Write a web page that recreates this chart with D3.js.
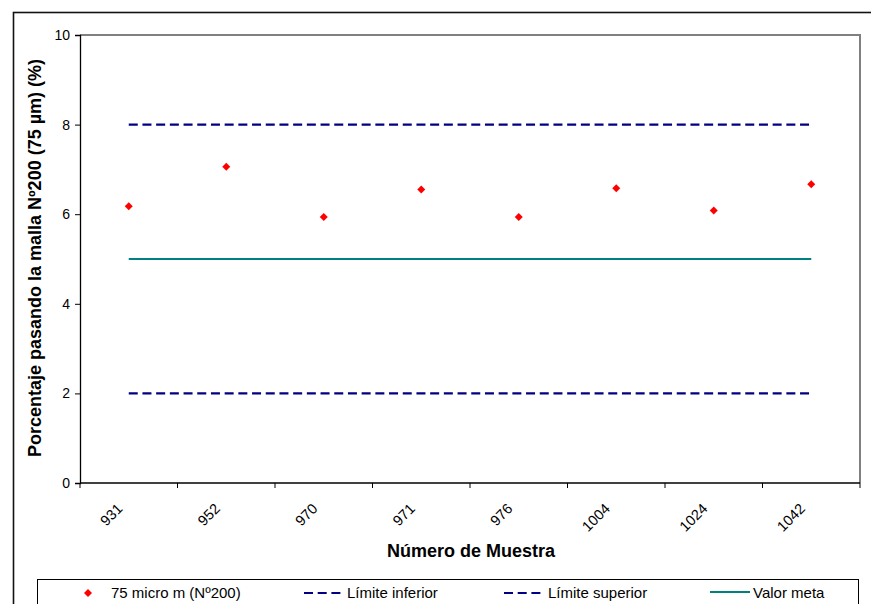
<!DOCTYPE html>
<html>
<head>
<meta charset="utf-8">
<script src="https://cdn.jsdelivr.net/npm/d3@7"></script>
<style>
  body { margin: 0; background: #fff; }
  svg { display: block; font-family: "Liberation Sans", Arial, sans-serif; }
</style>
</head>
<body>
<div id="chart"></div>
<script>
// data
const muestras = ['931', '952', '970', '971', '976', '1004', '1024', '1042'];
const pasando200 = [6.18, 7.06, 5.94, 6.55, 5.94, 6.58, 6.08, 6.67];
const limiteInferior = [2, 2, 2, 2, 2, 2, 2, 2];
const limiteSuperior = [8, 8, 8, 8, 8, 8, 8, 8];
const valorMeta = [5, 5, 5, 5, 5, 5, 5, 5];
const yTicks = [0, 2, 4, 6, 8, 10];
const legendNames = ['75 micro m (Nº200)', 'Límite inferior', 'Límite superior', 'Valor meta'];

const width = 871, height = 604;
const margin = { left: 80, right: 11, top: 35, bottom: 121 };

const svg = d3.select('#chart').append('svg')
    .attr('width', width)
    .attr('height', height);

// outer chart frame (runs off the picture right and bottom)
svg.append('rect')
    .attr('x', 13.5).attr('y', 12.5)
    .attr('width', 900).attr('height', 700)
    .attr('fill', 'none')
    .attr('stroke', '#111')
    .attr('stroke-width', 1.6);

const x = d3.scaleBand()
    .domain(muestras)
    .range([margin.left, width - margin.right]);

const y = d3.scaleLinear()
    .domain([0, 10])
    .range([height - margin.bottom, margin.top]);

const cx = d => x(d) + x.bandwidth() / 2;

// plot border, top and right in grey
svg.append('path')
    .attr('d', 'M' + margin.left + ',' + y(10) + 'H' + (width - margin.right) + 'V' + y(0))
    .attr('fill', 'none')
    .attr('stroke', '#808080')
    .attr('stroke-width', 2);

// y axis
const yAxis = svg.append('g')
    .attr('transform', 'translate(' + margin.left + ',0)')
    .call(d3.axisLeft(y).tickValues(yTicks).tickSize(5).tickPadding(5));
yAxis.select('.domain').attr('stroke', '#000').attr('stroke-width', 1.3);
yAxis.selectAll('.tick line').attr('stroke', '#000');
yAxis.selectAll('.tick text').style('font-size', '14px').attr('fill', '#000');

// x axis, ticks between categories
const xAxis = svg.append('g')
    .attr('transform', 'translate(0,' + y(0) + ')');
xAxis.append('line')
    .attr('x1', margin.left).attr('x2', width - margin.right)
    .attr('stroke', '#000').attr('stroke-width', 1.3);
const bounds = muestras.map(d => x(d)).concat([x(muestras[muestras.length - 1]) + x.bandwidth()]);
xAxis.selectAll('line.tk')
    .data(bounds)
    .enter().append('line')
    .attr('class', 'tk')
    .attr('x1', d => d).attr('x2', d => d)
    .attr('y1', 0).attr('y2', 5)
    .attr('stroke', '#000');
xAxis.selectAll('text')
    .data(muestras)
    .enter().append('text')
    .attr('transform', d => 'translate(' + (cx(d) - 9) + ',23) rotate(-45)')
    .attr('text-anchor', 'end')
    .attr('dy', '0.35em')
    .style('font-size', '14.5px')
    .text(d => d);

// reference lines
const line = d3.line()
    .x((d, i) => cx(muestras[i]))
    .y(d => y(d));

svg.append('path')
    .datum(limiteSuperior)
    .attr('d', line)
    .attr('fill', 'none')
    .attr('stroke', '#000080')
    .attr('stroke-width', 2.2)
    .attr('stroke-dasharray', '9,4.7');

svg.append('path')
    .datum(limiteInferior)
    .attr('d', line)
    .attr('fill', 'none')
    .attr('stroke', '#000080')
    .attr('stroke-width', 2.2)
    .attr('stroke-dasharray', '9,4.7');

svg.append('path')
    .datum(valorMeta)
    .attr('d', line)
    .attr('fill', 'none')
    .attr('stroke', '#008080')
    .attr('stroke-width', 2.2);

// points
const diamond = d3.symbol().type(d3.symbolSquare).size(32);
svg.selectAll('.pt')
    .data(pasando200)
    .enter().append('path')
    .attr('class', 'pt')
    .attr('d', diamond)
    .attr('transform', (d, i) => 'translate(' + cx(muestras[i]) + ',' + y(d) + ') rotate(45)')
    .attr('fill', '#ff0000');

// axis titles
svg.append('text')
    .attr('transform', 'translate(41,' + (y(5) - 1) + ') rotate(-90)')
    .attr('text-anchor', 'middle')
    .style('font-size', '18px')
    .style('font-weight', 'bold')
    .text('Porcentaje pasando la malla Nº200 (75 µm) (%)');

svg.append('text')
    .attr('x', (margin.left + width - margin.right) / 2 + 1)
    .attr('y', 557)
    .attr('text-anchor', 'middle')
    .style('font-size', '18px')
    .style('font-weight', 'bold')
    .text('Número de Muestra');

// legend
const legend = svg.append('g');
legend.append('rect')
    .attr('x', 37.5).attr('y', 579.5)
    .attr('width', 821).attr('height', 60)
    .attr('fill', '#fff')
    .attr('stroke', '#000');

const legX = [88, 304, 504, 710];
const legTextX = [111, 347, 548, 753];
legend.append('path')
    .attr('d', diamond)
    .attr('transform', 'translate(' + legX[0] + ',593) rotate(45)')
    .attr('fill', '#ff0000');
[1, 2].forEach(i => {
    legend.append('line')
        .attr('x1', legX[i]).attr('x2', legX[i] + 38)
        .attr('y1', 593).attr('y2', 593)
        .attr('stroke', '#000080')
        .attr('stroke-width', 2.2)
        .attr('stroke-dasharray', '9,4.7');
});
legend.append('line')
    .attr('x1', legX[3]).attr('x2', legX[3] + 40)
    .attr('y1', 592).attr('y2', 592)
    .attr('stroke', '#008080')
    .attr('stroke-width', 2.2);
legend.selectAll('text')
    .data(legendNames)
    .enter().append('text')
    .attr('x', (d, i) => legTextX[i])
    .attr('y', 598)
    .style('font-size', '15px')
    .text(d => d);
</script>
</body>
</html>
